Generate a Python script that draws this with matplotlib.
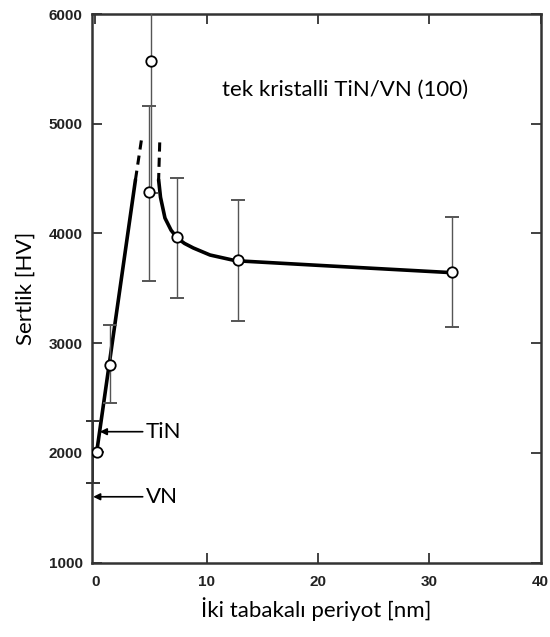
import numpy as np
import matplotlib.pyplot as plt

# measured hardness points (bilayer period nm, hardness HV)
pts_x = [0.12, 1.3, 4.82, 4.97, 7.36, 12.8, 32.0]
pts_y = [2010, 2800, 4380, 5570, 3970, 3760, 3650]
err_lo = [0, 345, 813, 1200, 560, 555, 505]
err_hi = [0, 366, 780, 1200, 540, 545, 497]

# TiN reference bar sitting on the axis
tin_x = [-0.25]
tin_y = [2010]
tin_lo = [284]
tin_hi = [280]

# fitted trend
left_x = [0.12, 3.6]
left_y = [2011, 4490]
left_dash_x = [3.6, 4.16]
left_dash_y = [4490, 4870]
right_dash_x = [5.78, 5.68]
right_dash_y = [4830, 4490]
right_x = [5.68, 5.85, 6.25, 6.8, 7.36, 8.0, 8.8, 10.3, 12.6, 20.0, 32.07]
right_y = [4490, 4330, 4141, 4030, 3959, 3910, 3868, 3804, 3752, 3710, 3643]

lab_font = ['Lato', 'DejaVu Sans']
tick_font = ['Liberation Sans', 'DejaVu Sans']

fig = plt.figure(figsize=(5.5, 6.37), dpi=100)
ax = fig.add_axes([0.1678, 0.1166, 0.815, 0.8614])

ax.plot(left_x, left_y, color='k', lw=2.6, solid_capstyle='round')
ax.plot(left_dash_x, left_dash_y, color='k', lw=2.2, ls=(0, (3, 2)))
ax.plot(right_dash_x, right_dash_y, color='k', lw=2.2, ls=(0, (3, 2)))
ax.plot(right_x, right_y, color='k', lw=2.6, solid_capstyle='round')

ax.errorbar(tin_x, tin_y, yerr=[tin_lo, tin_hi], fmt='none', ecolor='#333333',
            elinewidth=1.4, capsize=5, capthick=1.4, clip_on=False)
ax.errorbar(pts_x, pts_y, yerr=[err_lo, err_hi], fmt='none', ecolor='#555555',
            elinewidth=1.0, capsize=5, capthick=1.4, zorder=3)
ax.plot(pts_x, pts_y, 'o', ms=7.5, mfc='white', mec='black', mew=1.3, zorder=5)

ax.annotate('TiN', xy=(0.4, 2194), xytext=(4.5, 2194), va='center', ha='left',
            fontsize=16, family=lab_font,
            arrowprops=dict(arrowstyle='-|>', color='k', lw=1.2, mutation_scale=10,
                            shrinkA=0, shrinkB=0))
ax.annotate('VN', xy=(-0.2, 1601), xytext=(4.5, 1601), va='center', ha='left',
            fontsize=16, family=lab_font,
            arrowprops=dict(arrowstyle='-|>', color='k', lw=1.2, mutation_scale=10,
                            shrinkA=0, shrinkB=0))
ax.text(11.4, 5310, 'tek kristalli TiN/VN (100)', fontsize=16, family=lab_font,
        va='center', ha='left')

ax.set_xlim(-0.28, 40)
ax.set_ylim(1000, 6000)
ax.set_xticks([0, 10, 20, 30, 40])
ax.set_yticks([1000, 2000, 3000, 4000, 5000, 6000])
for t in ax.xaxis.get_major_ticks()[::4]:
    t.tick1line.set_visible(False)
    t.tick2line.set_visible(False)
ax.tick_params(direction='in', length=7, width=1.3, top=True, right=True,
               colors='#333333', labelcolor='#222222')
ax.tick_params(axis='x', pad=9)
ax.tick_params(axis='y', pad=7)
for lbl in ax.get_xticklabels() + ax.get_yticklabels():
    lbl.set_family(tick_font)
    lbl.set_fontweight('bold')
    lbl.set_fontsize(11)
for s in ax.spines.values():
    s.set_linewidth(1.8)
    s.set_color('#333333')

ax.set_ylabel('Sertlik [HV]', fontsize=16, family=lab_font, labelpad=9)
ax.set_xlabel('İki tabakalı periyot [nm]', fontsize=16, family=lab_font, labelpad=6)

fig.savefig('out.png', dpi=100)
